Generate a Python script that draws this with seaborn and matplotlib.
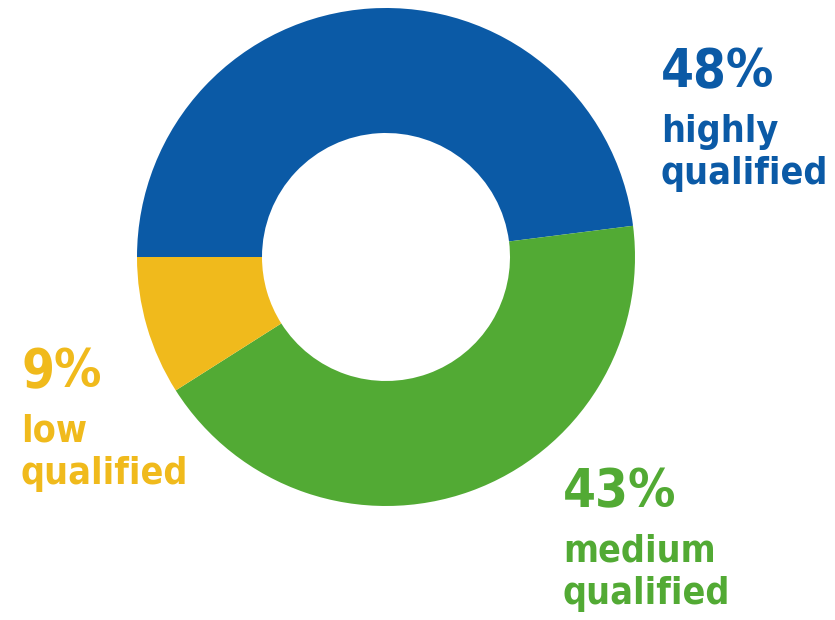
import matplotlib
matplotlib.use("Agg")
import matplotlib.pyplot as plt
from matplotlib import font_manager
import seaborn as sns

# Data
labels = ["highly\nqualified", "medium\nqualified", "low\nqualified"]
shares = [48, 43, 9]
colors = ["#0b5aa6", "#52aa34", "#f0ba1c"]

sns.set_theme(style="white")
plt.rcParams['font.family'] = ['DejaVu Sans']

# look for a condensed bold face among installed fonts
narrow = None
for f in font_manager.fontManager.ttflist:
    name = (f.name + " " + f.fname).lower()
    is_narrow = ('condensed' in name or 'narrow' in name
                 or f.stretch in ('condensed', 'semi-condensed', 'extra-condensed', 'ultra-condensed'))
    is_bold = f.weight in ('bold', 700, 800, 'heavy', 'extra bold', 'black', 600, 'semibold', 'demibold') \
        or 'bold' in f.fname.lower()
    if is_narrow and is_bold:
        narrow = f.fname
        break

if narrow:
    fp = font_manager.FontProperties(fname=narrow)
    big, small = 38, 27
else:
    fp = font_manager.FontProperties(family='DejaVu Sans', weight='bold')
    big, small = 34, 24

fig = plt.figure(figsize=(8.35, 6.2), dpi=100)
ax = fig.add_axes([0, 0, 1, 1])

# donut (pixel coords, y up)
ax.pie(shares, colors=colors, startangle=180, counterclock=False,
       center=(386, 620 - 257), radius=249,
       wedgeprops=dict(width=125, linewidth=0), frame=True)
ax.set_xlim(0, 835)
ax.set_ylim(0, 620)
ax.set_aspect('equal')
ax.axis('off')

# label positions: left x, baseline of the percent line (pixels from top)
label_pos = [(661, 87), (563, 507), (21, 387)]

for (x, y), share, lab, col in zip(label_pos, shares, labels, colors):
    ax.text(x, 620 - y, f"{share}%", color=col, fontproperties=fp,
            fontsize=big, ha='left', va='baseline')
    line1, line2 = lab.split("\n")
    ax.text(x, 620 - (y + 55), line1, color=col, fontproperties=fp,
            fontsize=small, ha='left', va='baseline')
    ax.text(x, 620 - (y + 97), line2, color=col, fontproperties=fp,
            fontsize=small, ha='left', va='baseline')

fig.savefig("out.png", dpi=100, facecolor='white')
